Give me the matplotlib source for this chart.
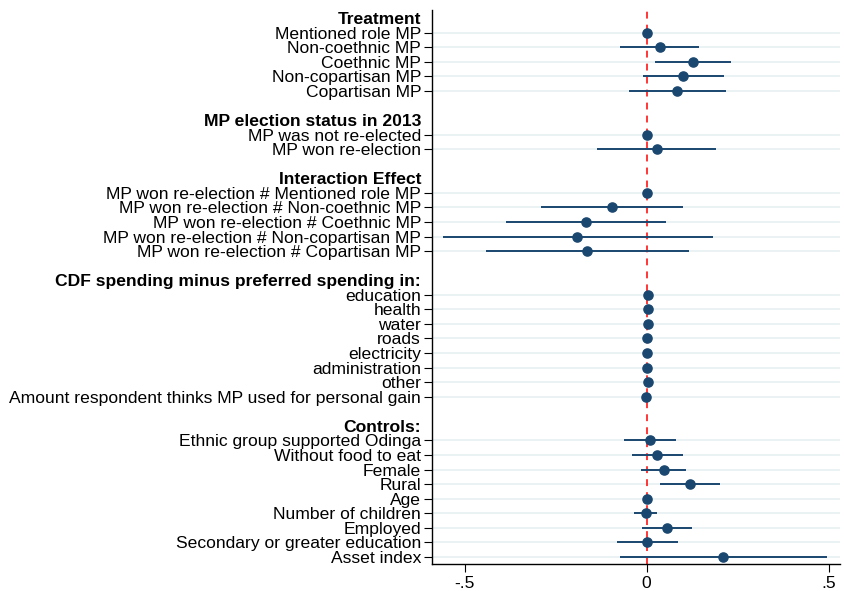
import numpy as np
import matplotlib
matplotlib.use("Agg")
import matplotlib.pyplot as plt

nan = np.nan

# Groups: heading, labels, coefficients, CI lower, CI upper
treat_labels = ["Mentioned role MP", "Non-coethnic MP", "Coethnic MP",
                "Non-copartisan MP", "Copartisan MP"]
treat_coef = [0.0, 0.036, 0.127, 0.101, 0.084]
treat_lo = [nan, -0.072, 0.024, -0.009, -0.049]
treat_hi = [nan, 0.145, 0.231, 0.212, 0.218]

elect_labels = ["MP was not re-elected", "MP won re-election"]
elect_coef = [0.0, 0.027]
elect_lo = [nan, -0.136]
elect_hi = [nan, 0.190]

inter_labels = ["MP won re-election # Mentioned role MP",
                "MP won re-election # Non-coethnic MP",
                "MP won re-election # Coethnic MP",
                "MP won re-election # Non-copartisan MP",
                "MP won re-election # Copartisan MP"]
inter_coef = [0.0, -0.096, -0.168, -0.190, -0.163]
inter_lo = [nan, -0.289, -0.387, -0.560, -0.440]
inter_hi = [nan, 0.099, 0.054, 0.182, 0.115]

cdf_labels = ["education", "health", "water", "roads", "electricity",
              "administration", "other",
              "Amount respondent thinks MP used for personal gain"]
cdf_coef = [0.003, 0.003, 0.004, 0.0, 0.002, 0.001, 0.004, -0.002]
cdf_lo = [0.001, 0.001, 0.002, -0.002, 0.0, -0.001, 0.002, -0.004]
cdf_hi = [0.005, 0.005, 0.006, 0.002, 0.004, 0.003, 0.006, 0.0]

ctrl_labels = ["Ethnic group supported Odinga", "Without food to eat", "Female",
               "Rural", "Age", "Number of children", "Employed",
               "Secondary or greater education", "Asset index"]
ctrl_coef = [0.008, 0.029, 0.048, 0.118, 0.001, -0.001, 0.056, 0.002, 0.210]
ctrl_lo = [-0.062, -0.041, -0.015, 0.036, -0.001, -0.034, -0.013, -0.081, -0.073]
ctrl_hi = [0.080, 0.100, 0.109, 0.201, 0.003, 0.028, 0.125, 0.085, 0.494]

headings = ["Treatment", "MP election status in 2013", "Interaction Effect",
            "CDF spending minus preferred spending in:", "Controls:"]
groups = [
    (treat_labels, treat_coef, treat_lo, treat_hi),
    (elect_labels, elect_coef, elect_lo, elect_hi),
    (inter_labels, inter_coef, inter_lo, inter_hi),
    (cdf_labels, cdf_coef, cdf_lo, cdf_hi),
    (ctrl_labels, ctrl_coef, ctrl_lo, ctrl_hi),
]

plt.rcParams['font.family'] = ['Liberation Sans', 'DejaVu Sans']

fig = plt.figure(figsize=(8.44, 5.91), dpi=100)
ax = fig.add_axes([431.5 / 844, 1 - 564 / 591, (840 - 431.5) / 844, (564 - 10) / 591])

navy = "#1a476f"
ticks, ticklabels, is_head = [], [], []
pos = 0
ys, cs, los, his = [], [], [], []
for gi, (head, (labs, coef, lo, hi)) in enumerate(zip(headings, groups)):
    if gi > 0:
        pos += 1  # blank gap
    ticks.append(pos); ticklabels.append(head); is_head.append(True)
    pos += 1
    for l, c, a, b in zip(labs, coef, lo, hi):
        ticks.append(pos); ticklabels.append(l); is_head.append(False)
        ys.append(pos); cs.append(c); los.append(a); his.append(b)
        pos += 1

ys = np.array(ys); cs = np.array(cs); los = np.array(los); his = np.array(his)

ax.axvline(0, color="red", lw=1.1, ls=(0, (4.5, 4)), zorder=1)
ax.hlines(ys, los, his, color=navy, lw=1.4, zorder=3)
ax.plot(cs, ys, "o", color=navy, ms=6.6, zorder=4, mec=navy)

fs = 12.6
ax.set_yticks(ticks)
ax.set_yticklabels(ticklabels, fontsize=fs)
ax.set_ylim(37.48, -0.55)
ax.set_xlim(-0.591, 0.531)
ax.set_xticks([-0.5, 0, 0.5])
ax.set_xticklabels(["-.5", "0", ".5"], fontsize=fs)

ax.grid(axis="y", color="#eaf2f3", lw=1.4, zorder=0)
ax.set_axisbelow(True)
for t, h in zip(ax.yaxis.get_major_ticks(), is_head):
    if h:
        t.tick1line.set_visible(False)
        t.gridline.set_visible(False)
        t.label1.set_fontweight("bold")

ax.tick_params(axis="y", length=6, width=0.8, pad=1.5, color="black")
ax.tick_params(axis="x", length=6, width=0.8, pad=3)
for s in ["top", "right"]:
    ax.spines[s].set_visible(False)
ax.spines["left"].set_linewidth(1.0)
ax.spines["bottom"].set_linewidth(1.0)

fig.savefig("out.png", dpi=100)
